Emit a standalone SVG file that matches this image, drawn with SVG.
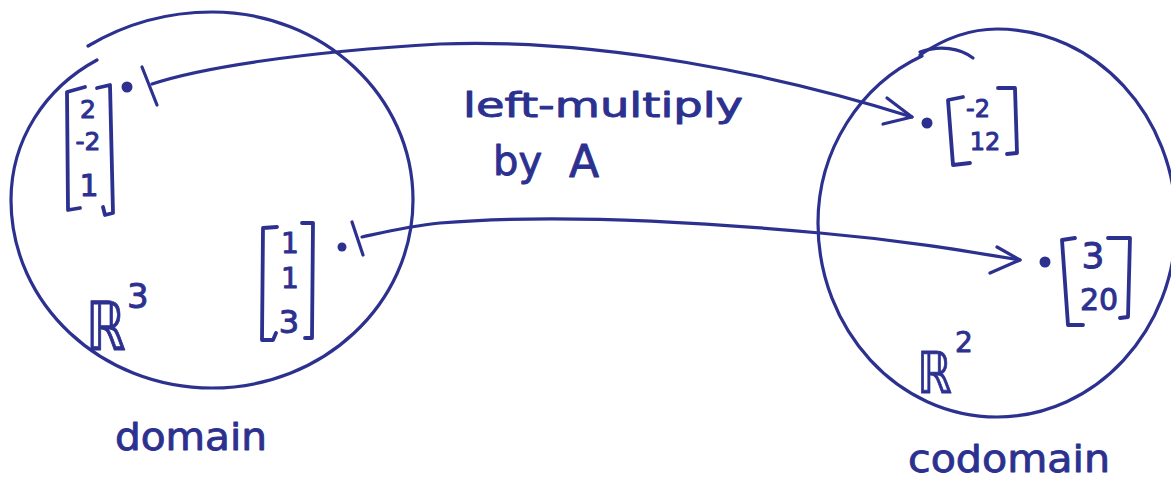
<svg xmlns="http://www.w3.org/2000/svg" width="1171" height="482" viewBox="0 0 1171 482">
  <style>
    .ink { fill: none; stroke: #2c3190; stroke-width: 3.2; stroke-linecap: round; stroke-linejoin: round; }
    .pen { fill: none; stroke: #2c3190; stroke-width: 3.8; stroke-linecap: round; stroke-linejoin: round; }
    .dot { fill: #2c3190; }
    .txt { fill: #2c3190; stroke: #2c3190; stroke-width: 0.9; stroke-linejoin: round; font-family: "DejaVu Sans", "Liberation Sans", sans-serif; }
    .num { fill: #2c3190; stroke: #2c3190; stroke-width: 1; stroke-linejoin: round; font-family: "DejaVu Sans", "Liberation Sans", sans-serif; text-anchor: middle; }
  </style>
  <rect x="0" y="0" width="1171" height="482" fill="#ffffff"/>

  <!-- domain: R^3 -->
  <g id="domain">
    <path class="ink" d="M 88 46 C 125 24 168 12 212 12 C 323 12 413 96 413 200 C 413 304 323 388 212 388 C 101 388 11 304 11 200 C 11 140 45 88 97 60"/>
    <text class="txt" transform="translate(86 350) scale(0.74 1)" font-size="68">ℝ</text>
    <text class="txt" x="127" y="308" font-size="34">3</text>
    <text class="txt" x="115" y="450" font-size="38" textLength="152" lengthAdjust="spacingAndGlyphs">domain</text>
  </g>

  <!-- codomain: R^2 -->
  <g id="codomain">
    <path class="ink" d="M 920 52 C 940 45 960 48 973 58"/>
    <path class="ink" d="M 920 55 C 945 38 970 29 997 29 C 1096 29 1176 116 1176 223 C 1176 330 1096 417 997 417 C 898 417 818 330 818 223 C 818 150 860 85 922 56"/>
    <text class="txt" transform="translate(917 393) scale(0.76 1)" font-size="58">ℝ</text>
    <text class="txt" x="955" y="352" font-size="28">2</text>
    <text class="txt" x="908" y="472" font-size="38" textLength="202" lengthAdjust="spacingAndGlyphs">codomain</text>
  </g>

  <!-- vector (2, -2, 1) -->
  <g id="vec-u">
    <path class="pen" d="M 85 87 L 67 92 L 68 210 L 80 208"/>
    <path class="pen" d="M 97 88 L 110 85 L 113 213 L 105 215 L 103 207"/>
    <text class="num" x="88" y="118" font-size="25">2</text>
    <text class="num" x="88" y="150" font-size="25">-2</text>
    <text class="num" x="89" y="196" font-size="30">1</text>
    <circle class="dot" cx="127" cy="87" r="5.5"/>
  </g>

  <!-- vector (1, 1, 3) -->
  <g id="vec-v">
    <path class="pen" d="M 277 227 L 263 228 L 262 340 L 273 340 L 276 333"/>
    <path class="pen" d="M 302 223 L 313 223 L 312 338 L 305 338"/>
    <text class="num" x="290" y="253" font-size="28">1</text>
    <text class="num" x="290" y="288" font-size="28">1</text>
    <text class="num" x="289" y="333" font-size="32">3</text>
    <circle class="dot" cx="342" cy="247" r="4.5"/>
  </g>

  <!-- image (-2, 12) -->
  <g id="img-u">
    <circle class="dot" cx="927" cy="123" r="5.5"/>
    <path class="pen" d="M 963 97 L 948 100 L 953 165 L 970 163"/>
    <path class="pen" d="M 998 88 L 1015 88 L 1017 153 L 1007 154"/>
    <text class="num" x="978" y="117" font-size="24">-2</text>
    <text class="num" x="985" y="150" font-size="24">12</text>
  </g>

  <!-- image (3, 20) -->
  <g id="img-v">
    <circle class="dot" cx="1045" cy="262" r="5.5"/>
    <path class="pen" d="M 1075 238 L 1062 240 L 1068 325 L 1083 325"/>
    <path class="pen" d="M 1108 238 L 1130 238 L 1128 317 L 1120 318"/>
    <text class="num" x="1093" y="268" font-size="36">3</text>
    <text class="num" x="1099" y="310" font-size="30">20</text>
  </g>

  <!-- map label -->
  <g id="label">
    <text class="txt" x="463" y="117" font-size="33" textLength="280" lengthAdjust="spacingAndGlyphs">left-multiply</text>
    <text class="txt" x="493" y="175" font-size="40">by</text>
    <text class="txt" x="569" y="177" font-size="44">A</text>
  </g>

  <!-- mapping arrows: tail bar at the input, open head at the output -->
  <g id="connectors">
    <path class="ink" d="M 142 67 L 157 105"/>
    <path class="ink" d="M 152 84 C 200 68 300 52 440 44 C 600 38 780 75 912 117"/>
    <path class="ink" d="M 887 98 L 912 117 L 883 124"/>

    <path class="ink" d="M 352 222 L 363 255"/>
    <path class="ink" d="M 362 237 C 385 232 410 226 440 223 C 560 213 700 222 820 233 C 900 240 960 250 1020 260"/>
    <path class="ink" d="M 997 247 L 1020 260 L 990 273"/>
  </g>
</svg>
